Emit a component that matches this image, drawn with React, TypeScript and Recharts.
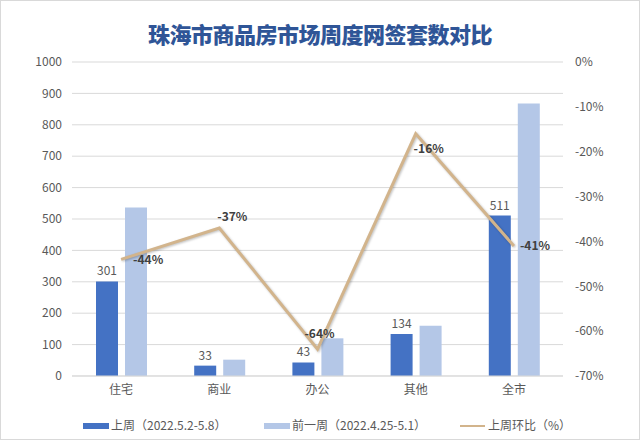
import React from 'react';
import { ComposedChart, Bar, Line, XAxis, YAxis, CartesianGrid, LabelList } from 'recharts';

const categories = ['住宅', '商业', '办公', '其他', '全市'];
const lastWeek = [301, 33, 43, 134, 511];
const prevWeek = [537, 52, 120, 160, 868];
const weekChange = [-44, -37, -64, -16, -41];

const leftTicks = [0, 100, 200, 300, 400, 500, 600, 700, 800, 900, 1000];
const rightTicks = [0, -10, -20, -30, -40, -50, -60, -70];

// where each ratio label sits relative to its point
const ratioLabelPos = [
  { dx: 12, dy: 0, anchor: 'start' },
  { dx: 13, dy: -11, anchor: 'middle' },
  { dx: 2, dy: -15, anchor: 'middle' },
  { dx: 13, dy: 15, anchor: 'middle' },
  { dx: 6, dy: 0, anchor: 'start' },
];

const data = categories.map((name, i) => ({
  name,
  last: lastWeek[i],
  prev: prevWeek[i],
  change: weekChange[i],
}));

const FONT = '"Noto Sans CJK SC", "Noto Sans", sans-serif';
const DARK = '#4472c4';
const LIGHT = '#b4c7e7';
const TAN = '#d2b48c';

const RatioLabel = (props: any) => {
  const { x, y, value, index } = props;
  const p = ratioLabelPos[index];
  return (
    <text x={x + p.dx} y={y + p.dy} dy="0.35em" textAnchor={p.anchor} fontSize={12} fontWeight="bold" fill="#404040" fontFamily={FONT}>
      {value}%
    </text>
  );
};

const legendItems = [
  { x: 82, type: 'rect', color: DARK, text: '上周（2022.5.2-5.8）' },
  { x: 263, type: 'rect', color: LIGHT, text: '前一周（2022.4.25-5.1）' },
  { x: 459, type: 'line', color: TAN, text: '上周环比（%）' },
];

const ChartLegend = () => (
  <svg width={638} height={24} style={{ position: 'absolute', left: 0, top: 412 }}>
    {legendItems.map((it) => (
      <g key={it.text}>
        {it.type === 'rect' ? (
          <rect x={it.x} y={10} width={26} height={6} fill={it.color} />
        ) : (
          <line x1={it.x} x2={it.x + 25} y1={13} y2={13} stroke={it.color} strokeWidth={2} />
        )}
        <text x={it.x + 28} y={13} dy="0.35em" fontSize={12} fill="#595959" fontFamily={FONT}>
          {it.text}
        </text>
      </g>
    ))}
  </svg>
);

export default function App() {
  return (
    <div style={{ position: 'absolute', left: 0, top: 0, width: 638, height: 438, border: '1px solid #d9d9d9', background: '#fff', fontFamily: FONT }}>
      <div style={{ position: 'absolute', left: 0, top: 16, width: 638, textAlign: 'center', fontSize: 22, fontWeight: 900, color: '#2f5597', letterSpacing: -0.5 }}>
        珠海市商品房市场周度网签套数对比
      </div>
      <ComposedChart
        width={638}
        height={438}
        data={data}
        margin={{ top: 61, right: 0, left: 0, bottom: 39 }}
        barSize={22}
        barGap={7}
      >
        <CartesianGrid yAxisId="left" vertical={false} stroke="#d9d9d9" />
        <XAxis dataKey="name" height={24} tickLine={false} axisLine={{ stroke: '#d9d9d9' }} tick={{ fill: '#595959', fontSize: 12, fontFamily: FONT }} tickMargin={3} />
        <YAxis yAxisId="left" width={71} domain={[0, 1000]} ticks={leftTicks} axisLine={false} tickLine={false} tickSize={0} tickMargin={10} tick={{ fill: '#595959', fontSize: 12, fontFamily: FONT }} />
        <YAxis yAxisId="right" orientation="right" width={76} domain={[-70, 0]} ticks={rightTicks} tickFormatter={(v) => `${v}%`} axisLine={false} tickLine={false} tickSize={0} tickMargin={12} tick={{ fill: '#595959', fontSize: 12, fontFamily: FONT, textAnchor: 'start' }} />
        <Bar yAxisId="left" dataKey="last" fill={DARK} isAnimationActive={false}>
          <LabelList dataKey="last" position="top" offset={6} fill="#595959" fontSize={12} fontFamily={FONT} />
        </Bar>
        <Bar yAxisId="left" dataKey="prev" fill={LIGHT} isAnimationActive={false} />
        <Line
          yAxisId="right"
          dataKey="change"
          stroke={TAN}
          strokeWidth={3}
          dot={false}
          type="linear"
          isAnimationActive={false}
          style={{ filter: 'drop-shadow(1px 1px 1px rgba(0,0,0,0.25))' }}
        >
          <LabelList dataKey="change" content={<RatioLabel />} />
        </Line>
      </ComposedChart>
      <ChartLegend />
    </div>
  );
}
